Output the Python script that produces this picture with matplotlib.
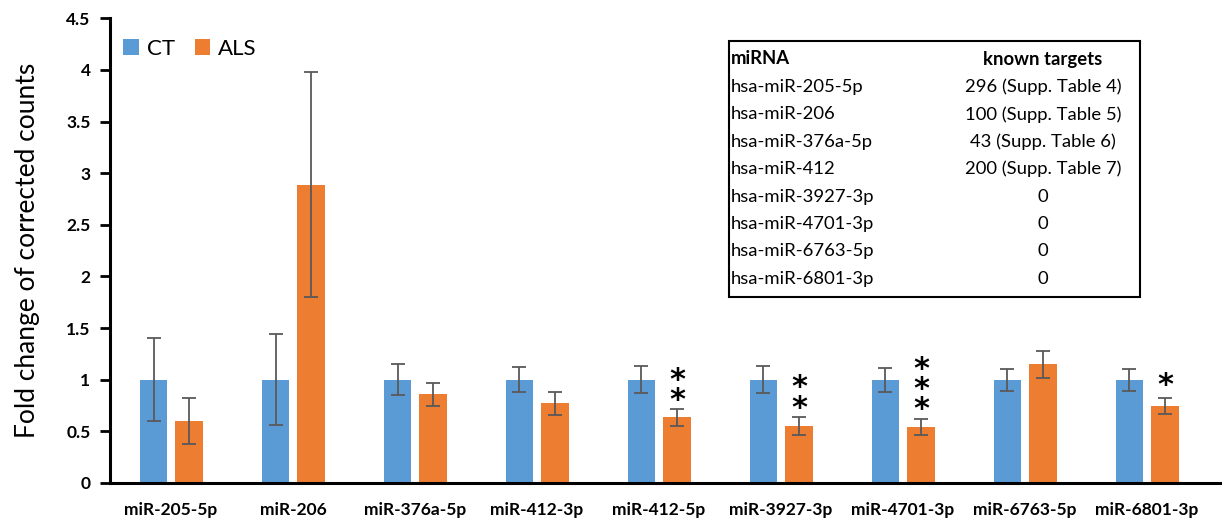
import matplotlib
matplotlib.use("Agg")
import matplotlib.pyplot as plt
import numpy as np
from matplotlib.patches import Rectangle

plt.rcParams['font.family'] = ['Lato', 'DejaVu Sans']

mirnas = ['miR-205-5p', 'miR-206', 'miR-376a-5p', 'miR-412-3p', 'miR-412-5p',
          'miR-3927-3p', 'miR-4701-3p', 'miR-6763-5p', 'miR-6801-3p']
ct_mean = [1.0, 1.0, 1.0, 1.0, 1.0, 1.0, 1.0, 1.0, 1.0]
ct_err = [0.40, 0.44, 0.15, 0.12, 0.13, 0.13, 0.115, 0.105, 0.105]
als_mean = [0.60, 2.89, 0.86, 0.77, 0.635, 0.55, 0.54, 1.15, 0.745]
als_err = [0.22, 1.09, 0.11, 0.11, 0.08, 0.09, 0.075, 0.13, 0.077]

# significance stars: group index, number of stars, y of lowest star
stars = [(4, 2, 0.89), (5, 2, 0.82), (6, 3, 0.82), (8, 1, 1.02)]

table_mirna = ['hsa-miR-205-5p', 'hsa-miR-206', 'hsa-miR-376a-5p', 'hsa-miR-412',
               'hsa-miR-3927-3p', 'hsa-miR-4701-3p', 'hsa-miR-6763-5p', 'hsa-miR-6801-3p']
table_targets = ['296 (Supp. Table 4)', '100 (Supp. Table 5)', '43 (Supp. Table 6)',
                 '200 (Supp. Table 7)', '0', '0', '0', '0']

blue = '#5B9BD5'
orange = '#ED7D31'

fig = plt.figure(figsize=(12.27, 5.24), dpi=100)
ax = fig.add_axes([0.0896, 0.0783, 0.9045, 0.8867])

x = np.arange(len(mirnas))
w = 0.225
ekw = dict(ecolor='#595959', elinewidth=1.3, capthick=1.3)
ax.bar(x - 0.142, ct_mean, w, color=blue, yerr=ct_err, capsize=5, error_kw=ekw, label='CT')
ax.bar(x + 0.15, als_mean, w, color=orange, yerr=als_err, capsize=5, error_kw=ekw, label='ALS')

# one text per stack of stars, spacing ~0.165 in data units
for gi, n, y0 in stars:
    yc = y0 + (n - 1) * 0.165 / 2
    ax.text(gi + 0.15, yc - 0.08, '\n'.join(['*'] * n), ha='center', va='center',
            fontsize=22, family='DejaVu Sans', fontweight='bold', linespacing=0.62)

ax.set_xlim(-0.5, 8.6)
ax.set_ylim(0, 4.5)
ax.set_yticks([0, 0.5, 1, 1.5, 2, 2.5, 3, 3.5, 4, 4.5])
ax.set_yticklabels(['0', '0.5', '1', '1.5', '2', '2.5', '3', '3.5', '4', '4.5'],
                   fontweight='bold', fontsize=12.5)
ax.set_xticks(x)
ax.set_xticklabels(mirnas, fontweight='bold', fontsize=12.5)
ax.tick_params(axis='x', length=0, pad=14)
ax.tick_params(axis='y', length=7, width=2, direction='out', pad=7)
for s in ['top', 'right']:
    ax.spines[s].set_visible(False)
ax.spines['left'].set_linewidth(2.2)
ax.spines['bottom'].set_linewidth(2.2)
ax.set_ylabel('Fold change of corrected counts', fontsize=19, labelpad=19)

ax.legend(loc='upper left', bbox_to_anchor=(0.0, 0.985), ncol=2, frameon=False,
          fontsize=16, handlelength=0.7, handleheight=0.7, handletextpad=0.35,
          columnspacing=0.9, borderaxespad=0.2)

# inset table with known targets
W, H = 1227.0, 524.0
fig.patches.append(Rectangle((729 / W, 1 - 297 / H), (1140 - 729) / W, (297 - 41) / H,
                             transform=fig.transFigure, fill=False, edgecolor='black',
                             linewidth=1.5))
row_y = 59
fig.text(731 / W, 1 - row_y / H, 'miRNA', fontsize=13.3, fontweight='bold', va='center')
fig.text(1043 / W, 1 - row_y / H, 'known targets', fontsize=13.3, fontweight='bold',
         va='center', ha='center')
for i, (m, t) in enumerate(zip(table_mirna, table_targets)):
    yy = 1 - (87 + i * 27.4) / H
    fig.text(731 / W, yy, m, fontsize=13.3, va='center')
    fig.text(1043 / W, yy, t, fontsize=13.3, va='center', ha='center')

fig.savefig('out.png', dpi=100)
